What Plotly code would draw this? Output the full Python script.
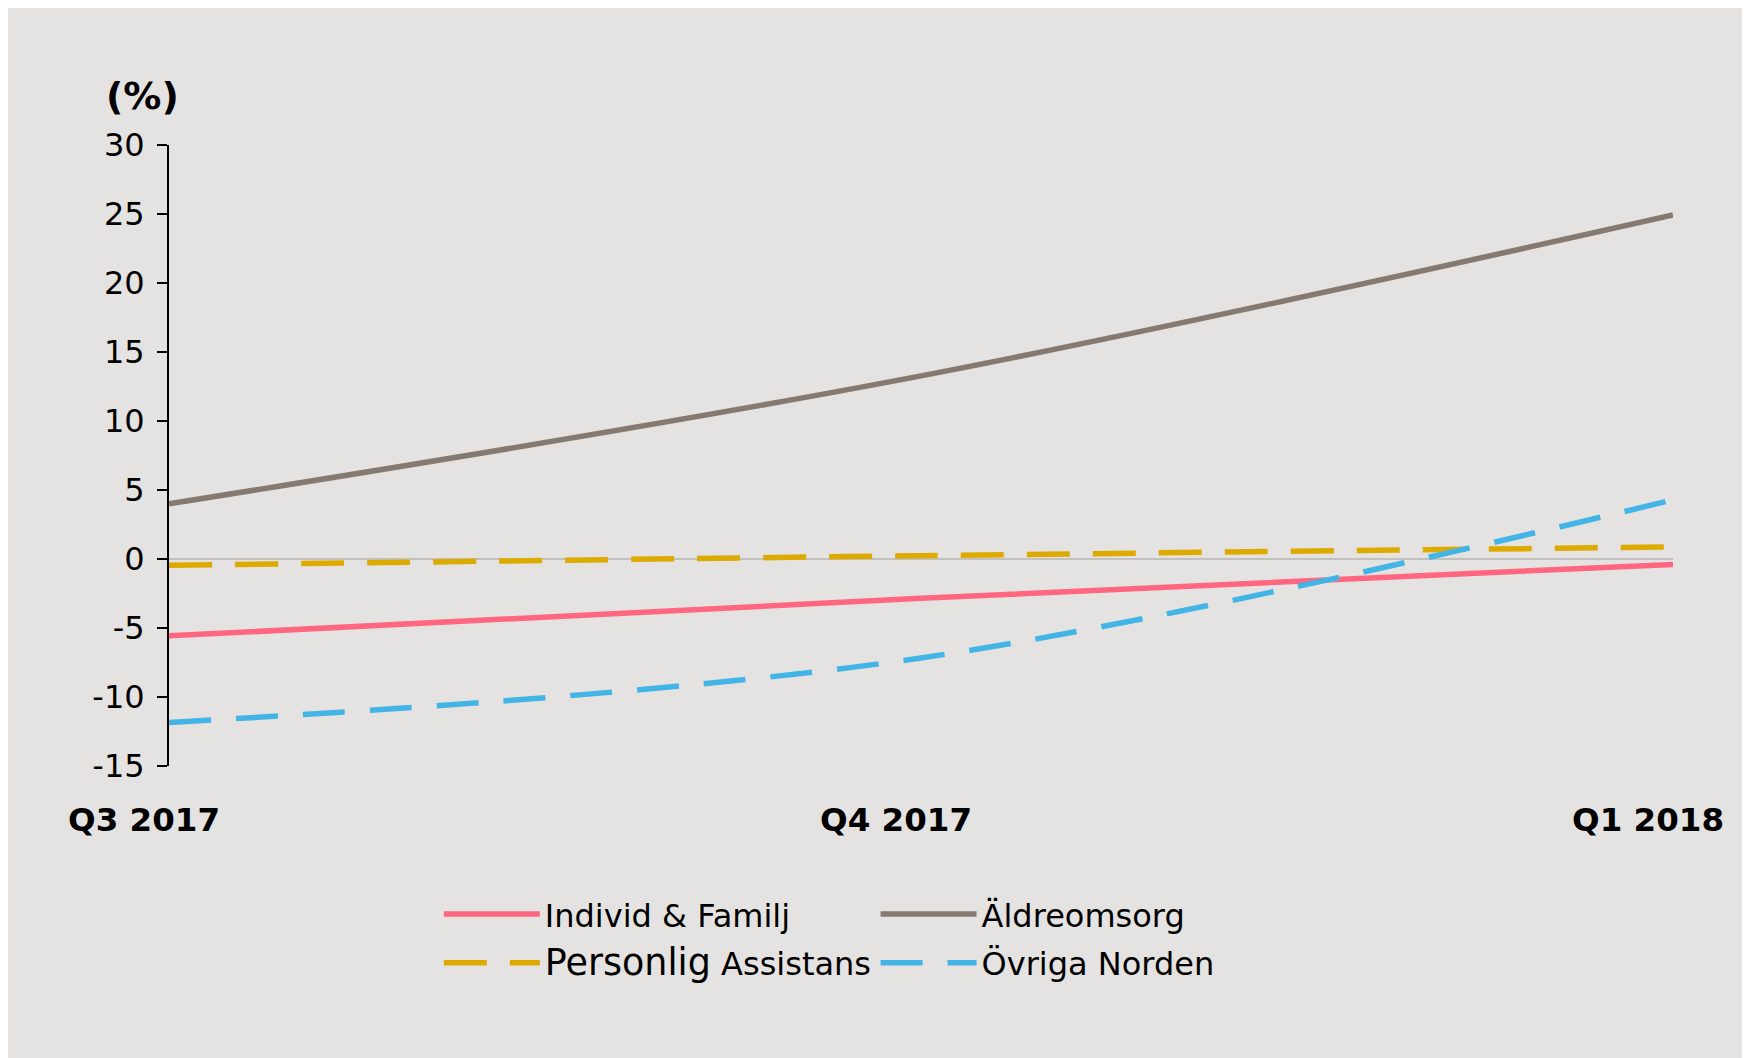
import plotly.graph_objects as go

# ---- data ----
quarters = ["Q3 2017", "Q4 2017", "Q1 2018"]
individ_familj = [-5.57, -2.85, -0.39]
aldreomsorg = [4.0, 13.27, 24.93]
personlig_assistans = [-0.46, 0.24, 0.87]
ovriga_norden = [-11.84, -7.17, 4.29]

y_tick_values = [-15, -10, -5, 0, 5, 10, 15, 20, 25, 30]
y_tick_labels = ["-15", "-10", "-5", "0", "5", "10", "15", "20", "25", "30"]

series_names = [
    "Individ & Familj",
    "Äldreomsorg",
    '<span style="font-size:36.5px">Personlig</span> Assistans',
    "Övriga Norden",
]

BG = "#e5e3e1"
FONT = "DejaVu Sans"

styles = [
    dict(color="#ff6680", dash="solid", legend="legend", group="g1"),
    dict(color="#857a72", dash="solid", legend="legend2", group="g3"),
    dict(color="#dcaa00", dash="43px,23px", legend="legend", group="g2"),
    dict(color="#42b5e6", dash="42px,25px", legend="legend2", group="g4"),
]
values = [individ_familj, aldreomsorg, personlig_assistans, ovriga_norden]

fig = go.Figure()
for name, vals, st in zip(series_names, values, styles):
    fig.add_trace(go.Scatter(
        x=quarters, y=vals, name=name, mode="lines",
        line=dict(color=st["color"], width=5.5, dash=st["dash"], shape="spline", smoothing=1),
        legend=st["legend"], legendgroup=st["group"],
        hoverinfo="skip",
    ))

legend_common = dict(
    orientation="v", xanchor="left", yanchor="top", y=-0.1945,
    bgcolor="rgba(0,0,0,0)", borderwidth=0,
    font=dict(size=32, family=FONT, color="black"),
    itemwidth=96, tracegroupgap=4,
)

fig.update_layout(
    width=1750, height=1058,
    paper_bgcolor=BG, plot_bgcolor=BG,
    margin=dict(l=161, r=85, t=137, b=300),
    font=dict(family=FONT, color="black"),
    showlegend=True,
    xaxis=dict(
        type="category", range=[0, 2],
        showline=False, showgrid=False, zeroline=False, ticks="",
        tickfont=dict(size=32.5, family=FONT, weight="bold", color="black"),
        ticklabelshift=-25, ticklabelstandoff=31,
    ),
    yaxis=dict(
        range=[-15, 30], tickvals=y_tick_values, ticktext=y_tick_labels,
        showline=True, linecolor="black", linewidth=2,
        ticks="outside", ticklen=10, tickwidth=2, tickcolor="black",
        showgrid=False, zeroline=True, zerolinecolor="#c3c1bf", zerolinewidth=2,
        tickfont=dict(size=32, family=FONT, color="black"),
        ticklabelstandoff=6,
    ),
    legend=dict(x=0.1794, **legend_common),
    legend2=dict(x=0.4698, **legend_common),
    annotations=[dict(
        text="(%)", xref="paper", yref="paper", x=-0.0435, y=1.0795,
        xanchor="left", yanchor="middle", showarrow=False,
        font=dict(size=38, family=FONT, weight="bold", color="black"),
    )],
)

fig.write_html("out.html")
